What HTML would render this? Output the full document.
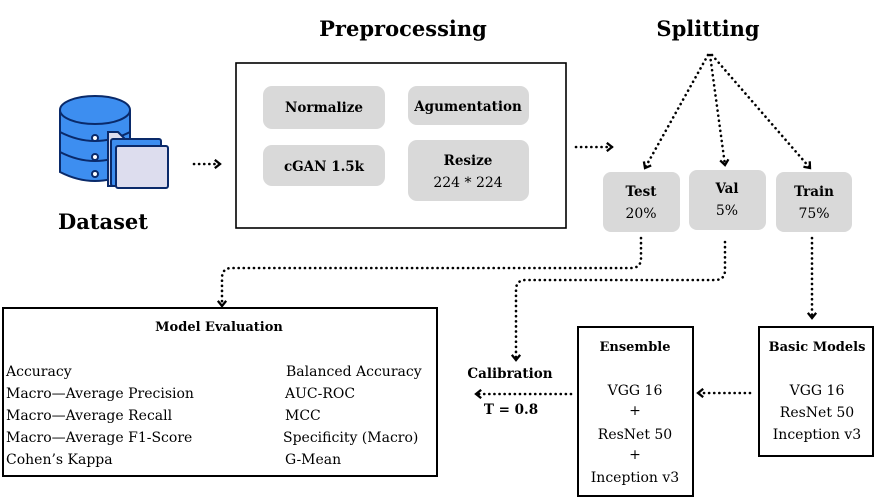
<!DOCTYPE html>
<html><head><meta charset="utf-8"><style>
html,body{margin:0;padding:0;background:#fff;}
svg{display:block;font-family:"DejaVu Serif","Liberation Serif",serif;}
.b{font-weight:bold;}
</style></head><body>
<svg width="876" height="499" viewBox="0 0 876 499" xmlns="http://www.w3.org/2000/svg">
<defs>
<marker id="ah" viewBox="0 0 10 10" refX="6" refY="5" markerWidth="4" markerHeight="4" orient="auto">
<path d="M1,1 L6,5 L1,9" fill="none" stroke="#000" stroke-width="2.2"/>
</marker>
</defs>
<g fill="none" stroke="#000" stroke-width="2.6" stroke-dasharray="0.1 5" stroke-linecap="round" marker-end="url(#ah)">
<path d="M194,164 L220,164"/>
<path d="M576,147 L612,147"/>
<path d="M708,55 L645,168"/>
<path d="M710,55 L725,165"/>
<path d="M712,55 L810,168"/>
<path d="M641,238 L641,258 Q641,268 631,268 L232,268 Q222,268 222,278 L222,306"/>
<path d="M725,242 L725,270 Q725,280 715,280 L526,280 Q516,280 516,290 L516,360"/>
<path d="M812,238 L812,318"/>
<path d="M571,394 L476,394"/>
<path d="M750,393 L698,393"/>
</g>
<!-- Database icon -->
<g stroke="#0a2a6a" stroke-width="2">
<path d="M60,110 L60,172 Q95,190 130,172 L130,110" fill="#3d8ef0"/>
<ellipse cx="95" cy="110" rx="35" ry="14" fill="#3d8ef0"/>
<path d="M60,132 Q95,150 130,132 M60,152 Q95,170 130,152" fill="none"/>
<circle cx="95" cy="138" r="3" fill="#fff"/>
<circle cx="95" cy="157" r="3" fill="#fff"/>
<circle cx="95" cy="174" r="3" fill="#fff"/>
<path d="M108,132 L118,132 L124,138 L124,186 L108,186 Z" fill="#ddddee"/>
<rect x="111" y="139" width="50" height="47" rx="2" fill="#3d8ef0"/>
<rect x="116" y="146" width="52" height="42" rx="2" fill="#ddddee"/>
</g>
<text x="103" y="229" class="b" font-size="21" text-anchor="middle">Dataset</text>
<text x="403" y="36" class="b" font-size="21" text-anchor="middle">Preprocessing</text>
<text x="708" y="36" class="b" font-size="21" text-anchor="middle">Splitting</text>
<rect x="236" y="63" width="330" height="165" fill="none" stroke="#000" stroke-width="1.6"/>
<g fill="#d9d9d9">
<rect x="263" y="86" width="122" height="43" rx="9"/>
<rect x="408" y="86" width="121" height="39" rx="9"/>
<rect x="263" y="145" width="122" height="41" rx="9"/>
<rect x="408" y="140" width="121" height="61" rx="9"/>
<rect x="603" y="172" width="77" height="60" rx="8"/>
<rect x="689" y="170" width="77" height="60" rx="8"/>
<rect x="776" y="172" width="76" height="60" rx="8"/>
</g>
<g class="b" font-size="13.5" text-anchor="middle">
<text x="324" y="112">Normalize</text>
<text x="468" y="111">Agumentation</text>
<text x="324" y="171">cGAN 1.5k</text>
<text x="468" y="165">Resize</text>
<text x="641" y="196">Test</text>
<text x="727" y="193">Val</text>
<text x="814" y="196">Train</text>
<text x="510" y="378">Calibration</text>
<text x="511" y="414">T = 0.8</text>
</g>
<g font-size="14" text-anchor="middle">
<text x="468" y="187">224 * 224</text>
<text x="641" y="218">20%</text>
<text x="727" y="215">5%</text>
<text x="814" y="218">75%</text>
</g>
<rect x="3" y="308" width="434" height="168" fill="none" stroke="#000" stroke-width="2"/>
<text x="219" y="331" class="b" font-size="13" text-anchor="middle">Model Evaluation</text>
<g font-size="14">
<text x="6" y="376">Accuracy</text>
<text x="6" y="398">Macro—Average Precision</text>
<text x="6" y="420">Macro—Average Recall</text>
<text x="6" y="442">Macro—Average F1-Score</text>
<text x="6" y="464">Cohen’s Kappa</text>
<text x="286" y="376">Balanced Accuracy</text>
<text x="285" y="398">AUC-ROC</text>
<text x="285" y="420">MCC</text>
<text x="283" y="442">Specificity (Macro)</text>
<text x="285" y="464">G-Mean</text>
</g>
<rect x="578" y="327" width="115" height="169" fill="none" stroke="#000" stroke-width="2"/>
<text x="635" y="351" class="b" font-size="13" text-anchor="middle">Ensemble</text>
<g font-size="14" text-anchor="middle">
<text x="635" y="395">VGG 16</text>
<text x="635" y="415">+</text>
<text x="635" y="439">ResNet 50</text>
<text x="635" y="459">+</text>
<text x="635" y="482">Inception v3</text>
</g>
<rect x="759" y="327" width="114" height="129" fill="none" stroke="#000" stroke-width="2"/>
<text x="817" y="351" class="b" font-size="13" text-anchor="middle">Basic Models</text>
<g font-size="14" text-anchor="middle">
<text x="817" y="395">VGG 16</text>
<text x="817" y="417">ResNet 50</text>
<text x="817" y="439">Inception v3</text>
</g>
</svg>
</body></html>
